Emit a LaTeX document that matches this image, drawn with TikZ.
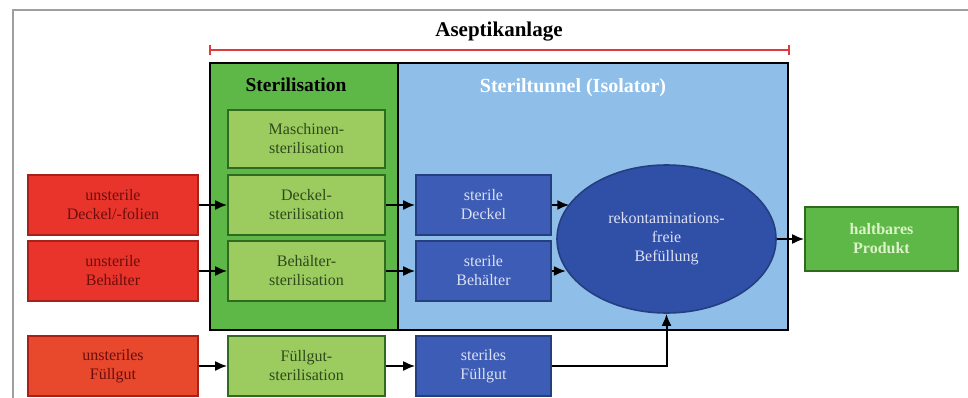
\documentclass[tikz,border=0pt]{standalone}
\usepackage{fontspec}
\setmainfont{Liberation Serif}
\usetikzlibrary{arrows.meta,shapes.geometric}
\definecolor{cRed}{HTML}{E8342B}
\definecolor{cRedO}{HTML}{E8482C}
\definecolor{cRedB}{HTML}{A8201A}
\definecolor{cRedT}{HTML}{6B0E0E}
\definecolor{cLG}{HTML}{9CCB60}
\definecolor{cLGB}{HTML}{2F6A1F}
\definecolor{cLGT}{HTML}{2E4A1C}
\definecolor{cG}{HTML}{5DB847}
\definecolor{cBl}{HTML}{8FBFE8}
\definecolor{cDB}{HTML}{3C5CB5}
\definecolor{cDBB}{HTML}{233F80}
\definecolor{cDBT}{HTML}{DCE0F4}
\definecolor{cEl}{HTML}{3050A8}
\definecolor{cProdT}{HTML}{DDF2C8}
\definecolor{cLine}{HTML}{E03A3A}
\tikzset{
  box/.style={rectangle, inner sep=0pt, align=center, line width=1.6pt,
    font=\fontsize{16}{19}\selectfont},
  redbox/.style={box, fill=cRed, draw=cRedB, text=cRedT, minimum width=170pt, minimum height=60pt},
  lgbox/.style={box, fill=cLG, draw=cLGB, text=cLGT, minimum width=157pt, minimum height=59pt},
  dbbox/.style={box, fill=cDB, draw=cDBB, text=cDBT, minimum width=135pt, minimum height=60pt},
  arr/.style={-{Latex[length=12pt,width=10pt]}, line width=2pt, black},
}
\begin{document}
\begin{tikzpicture}[x=1pt,y=-1pt]
\useasboundingbox (0,0) rectangle (968,398);
\fill[white] (0,0) rectangle (968,398);
\draw[gray!75, line width=1.2pt] (13,398) -- (13,10) -- (968,10);

% title and bracket
\node[font=\fontsize{21}{24}\bfseries\selectfont] (title) at (499,32) {Aseptikanlage};
\draw[cLine, line width=1.4pt] (210,50) -- (789,50);
\draw[cLine, line width=1.2pt] (210,45) -- (210,55);
\draw[cLine, line width=1.2pt] (789,45) -- (789,55);

% regions
\fill[cG] (210,63) rectangle (398,330);
\fill[cBl] (398,63) rectangle (788,330);
\draw[black, line width=2.6pt] (210,63) rectangle (788,330);
\draw[black, line width=2.2pt] (398,63) -- (398,330);
\node[font=\fontsize{19.5}{22}\bfseries\selectfont, text=black] (tSter) at (296,85) {Sterilisation};
\node[font=\fontsize{20}{22}\bfseries\selectfont, text=white] (tTun) at (573,88) {Steriltunnel (Isolator)};

% red inputs
\node[redbox] (uDeckel) at (113,205) {unsterile\\Deckel/-folien};
\node[redbox] (uBeh) at (113,271) {unsterile\\Behälter};
\node[redbox, fill=cRedO] (uFuell) at (113,366) {unsteriles\\Füllgut};

% sterilisation boxes
\node[lgbox, minimum height=58pt] (mSter) at (306.5,139) {Maschinen-\\sterilisation};
\node[lgbox, minimum height=60pt] (dSter) at (306.5,205) {Deckel-\\sterilisation};
\node[lgbox, minimum height=60pt] (bSter) at (306.5,271) {Behälter-\\sterilisation};
\node[lgbox, minimum height=60pt] (fSter) at (306.5,366) {Füllgut-\\sterilisation};

% sterile items
\node[dbbox] (sDeckel) at (483.5,205) {sterile\\Deckel};
\node[dbbox] (sBeh) at (483.5,271) {sterile\\Behälter};
\node[dbbox] (sFuell) at (483.5,366) {steriles\\Füllgut};

% ellipse
\node[ellipse, fill=cEl, draw=cDBB, line width=1.6pt, text=cDBT, align=center,
  minimum width=219pt, minimum height=148pt, inner sep=0pt,
  font=\fontsize{16}{19}\selectfont] (ell) at (666.5,239) {rekontaminations-\\freie\\Befüllung};

% product
\node[box, fill=cG, draw=cLGB, text=cProdT, minimum width=153pt, minimum height=64pt,
  font=\fontsize{16}{19}\bfseries\selectfont] (prod) at (881.5,239) {haltbares\\Produkt};

% arrows
\draw[arr] (uDeckel) -- (dSter);
\draw[arr] (uBeh) -- (bSter);
\draw[arr] (uFuell) -- (fSter);
\draw[arr] (dSter) -- (sDeckel);
\draw[arr] (bSter) -- (sBeh);
\draw[arr] (fSter) -- (sFuell);
\draw[arr] (sDeckel.east) -- (sDeckel.east -| ell.160.8);
\draw[arr] (sBeh.east) -- (sBeh.east -| ell.197.6);
\draw[arr] (sFuell.east) -| (ell.south);
\draw[arr] (ell.east) -- (prod.west);
\end{tikzpicture}
\end{document}
